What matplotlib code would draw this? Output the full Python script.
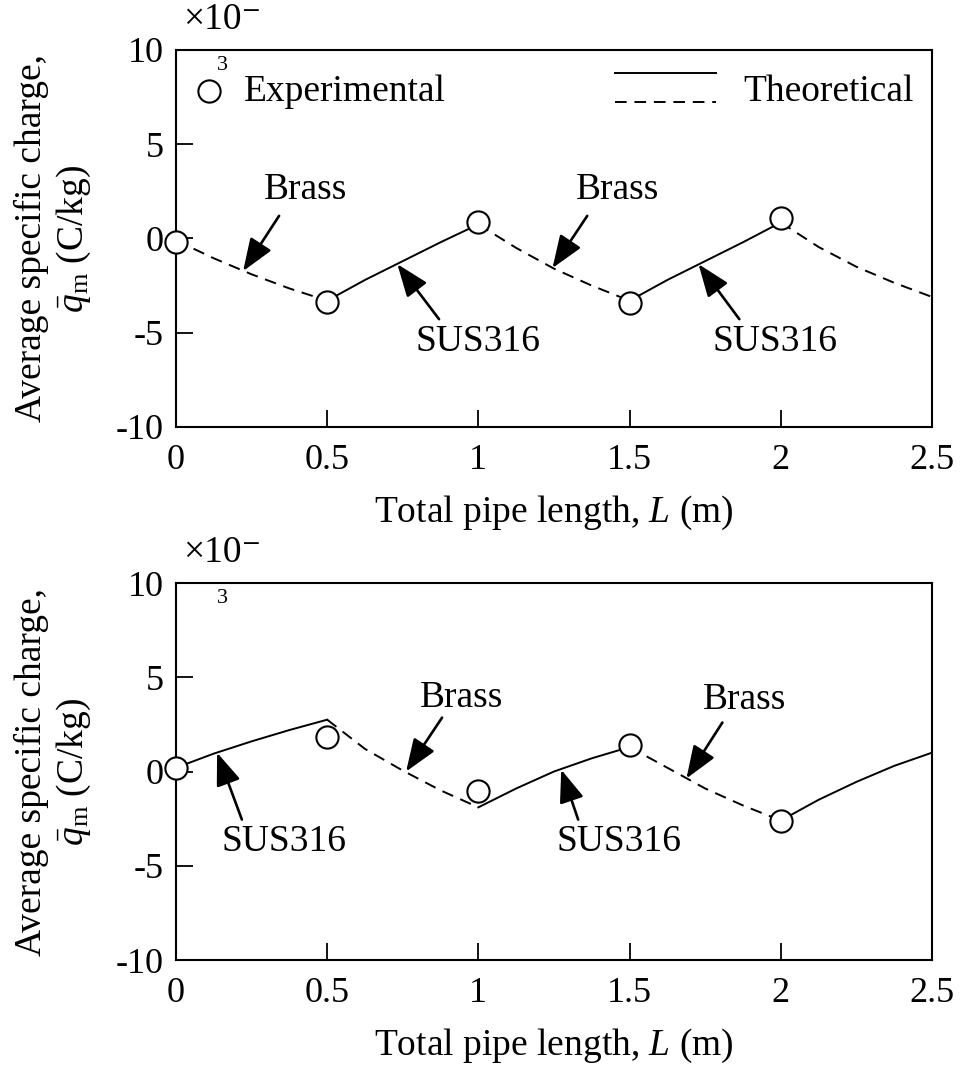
import numpy as np
import matplotlib
matplotlib.use('Agg')
import matplotlib.pyplot as plt

plt.rcParams['font.family'] = ['Liberation Serif', 'DejaVu Serif']
plt.rcParams['mathtext.fontset'] = 'custom'
plt.rcParams['mathtext.rm'] = 'Liberation Serif'
plt.rcParams['mathtext.it'] = 'Liberation Serif:italic'

# experimental points (L in m, q in 1e-3 C/kg)
exp_L = [0, 0.5, 1.0, 1.5, 2.0]
exp_q_top = [-0.2, -3.35, 0.85, -3.4, 1.1]
exp_q_bot = [0.2, 1.85, -1.05, 1.4, -2.65]

# theoretical curves, one list per pipe section
seg_L = [[0, 0.125, 0.25, 0.375, 0.5],
         [0.5, 0.625, 0.75, 0.875, 1.0],
         [1.0, 1.125, 1.25, 1.375, 1.5],
         [1.5, 1.625, 1.75, 1.875, 2.0],
         [2.0, 2.125, 2.25, 2.375, 2.5]]
top_q = [[-0.1, -1.05, -1.9, -2.65, -3.3],
         [-3.3, -2.2, -1.2, -0.2, 0.75],
         [0.75, -0.5, -1.6, -2.5, -3.3],
         [-3.3, -2.2, -1.2, -0.2, 0.85],
         [0.85, -0.45, -1.5, -2.35, -3.1]]
top_mat = ['Brass', 'SUS316', 'Brass', 'SUS316', 'Brass']
bot_q = [[0.2, 0.95, 1.6, 2.2, 2.75],
         [2.75, 1.2, 0.05, -1.0, -1.9],
         [-1.9, -0.9, 0.0, 0.7, 1.3],
         [1.3, 0.2, -0.9, -1.8, -2.6],
         [-2.6, -1.5, -0.55, 0.3, 1.0]]
bot_mat = ['SUS316', 'Brass', 'SUS316', 'Brass', 'SUS316']

FS = 27
TFS = 26
fig = plt.figure(figsize=(9.6, 10.68), dpi=100)
ax1 = fig.add_axes([0.1833, 0.6002, 0.7875, 0.353])
ax2 = fig.add_axes([0.1833, 0.1011, 0.7875, 0.353])


def style(ax):
    ax.set_xlim(0, 2.5)
    ax.set_ylim(-10, 10)
    ax.set_xticks([0, 0.5, 1, 1.5, 2, 2.5])
    ax.set_xticklabels(['0', '0.5', '1', '1.5', '2', '2.5'])
    ax.set_yticks([-10, -5, 0, 5, 10])
    ax.set_yticklabels(['-10', '-5', '0', '5', '10'])
    ax.tick_params(direction='in', length=12, width=1.3, labelsize=TFS,
                   top=False, right=False)
    ax.tick_params(axis='x', pad=12)
    ax.tick_params(axis='y', pad=9)
    for s in ax.spines.values():
        s.set_linewidth(1.5)
    ax.set_xlabel('Total pipe length, $L$ (m)', fontsize=FS, labelpad=12)
    ax.set_ylabel('Average specific charge,\n$\\bar{q}_\\mathrm{m}$ (C/kg)',
                  fontsize=FS, labelpad=16, linespacing=1.2)
    ax.text(0.01, 1.035, '×10⁻', transform=ax.transAxes, fontsize=FS, va='bottom')
    ax.text(0.061, 0.985, '3', transform=ax.transAxes, fontsize=16,
            va='top', ha='center')


def draw(ax, qs, mats, eq):
    for L, q, m in zip(seg_L, qs, mats):
        ls = (0, (6, 4)) if m == 'Brass' else '-'
        ax.plot(L, q, color='black', lw=1.4, ls=ls, zorder=2)
    ax.plot(exp_L, eq, 'o', ms=16, mfc='white', mec='black', mew=1.5,
            zorder=3, clip_on=False)


def arrow(ax, label, tip, start, txt):
    ax.annotate('', xy=tip, xytext=start,
                arrowprops=dict(arrowstyle='-|>,head_length=1.0,head_width=0.38',
                                color='black', lw=1.9, mutation_scale=20,
                                shrinkA=0, shrinkB=0))
    ax.text(txt[0], txt[1], label, fontsize=FS, ha='center', va='center')


style(ax1)
draw(ax1, top_q, top_mat, exp_q_top)
arrow(ax1, 'Brass', (0.222, -1.73), (0.341, 1.2), (0.43, 2.6))
arrow(ax1, 'SUS316', (0.732, -1.36), (0.87, -4.28), (1.0, -5.5))
arrow(ax1, 'Brass', (1.245, -1.57), (1.36, 1.2), (1.46, 2.6))
arrow(ax1, 'SUS316', (1.728, -1.36), (1.863, -4.28), (1.98, -5.5))

# legend drawn by hand like the original
ax1.plot([0.11], [7.85], 'o', ms=16, mfc='white', mec='black', mew=1.5)
ax1.text(0.225, 7.3, 'Experimental', fontsize=FS, va='baseline')
ax1.plot([1.452, 1.786], [8.76, 8.76], color='black', lw=1.4)
ax1.plot([1.452, 1.786], [7.24, 7.24], color='black', lw=1.4, ls=(0, (6, 4)))
ax1.text(1.875, 7.3, 'Theoretical', fontsize=FS, va='baseline')

style(ax2)
draw(ax2, bot_q, bot_mat, exp_q_bot)
arrow(ax2, 'SUS316', (0.136, 1.0), (0.218, -2.55), (0.357, -3.7))
arrow(ax2, 'Brass', (0.761, 0.0), (0.88, 2.86), (0.943, 3.9))
arrow(ax2, 'SUS316', (1.274, 0.1), (1.33, -2.55), (1.466, -3.7))
arrow(ax2, 'Brass', (1.688, -0.37), (1.807, 2.6), (1.88, 3.8))

fig.savefig('out.png', dpi=100)
